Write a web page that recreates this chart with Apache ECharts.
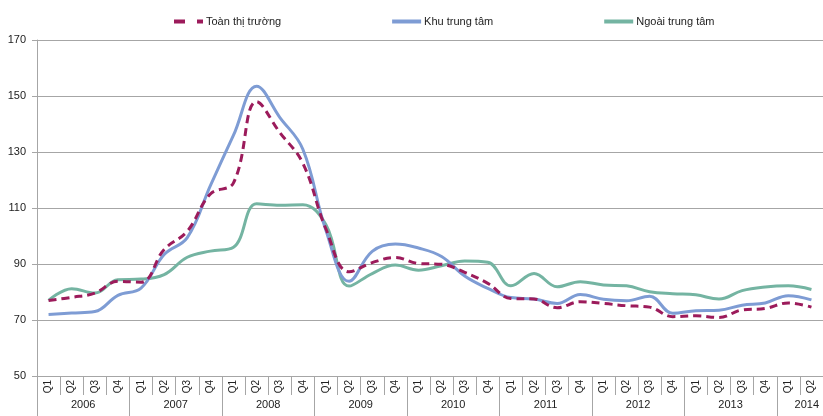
<!DOCTYPE html>
<html>
<head>
<meta charset="utf-8">
<script src="https://cdn.jsdelivr.net/npm/echarts@6/dist/echarts.min.js"></script>
<style>html,body{margin:0;padding:0;background:#fff}#c{width:823px;height:416px}</style>
</head>
<body>
<div id="c"></div>
<script>
var quarters = ['Q1','Q2','Q3','Q4','Q1','Q2','Q3','Q4','Q1','Q2','Q3','Q4','Q1','Q2','Q3','Q4','Q1','Q2','Q3','Q4','Q1','Q2','Q3','Q4','Q1','Q2','Q3','Q4','Q1','Q2','Q3','Q4','Q1','Q2'];
var years = ['2006','2007','2008','2009','2010','2011','2012','2013','2014'];
var yearStarts = [0,4,8,12,16,20,24,28,32];
var yearCenters = [2,6,10,14,18,22,26,30,33.3];
var yTicks = [50,70,90,110,130,150,170];

var toanThiTruong = [77,78.1,79.6,83.8, 83.5,95.2,101.7,115, 119,148,137,126, 102.5,87.2,90.5,92.3, 90.2,89.9,87,83.1, 77.7,77.5,74.4,76.5, 75.9,75.1,74.6,71.2, 71.5,70.9,73.6,74.1, 76.1,74.6];
var khuTrungTam = [72,72.5,73,78.8, 81.4,93.4,99.4,118, 136,153.5,142.4,131, 102,83.8,94.5,97.1, 95.7,92.7,85.7,81.3, 78,77.5,75.9,79.1, 77.4,76.9,78.5,72.4, 73.3,73.5,75.3,76.1, 78.7,77.2];
var ngoaiTrungTam = [77,81.2,79.6,84.4, 84.6,86.2,92.4,94.6, 96,111.5,111,111.2, 104,82.1,86.6,89.6, 87.8,89.4,91.1,90.6, 82.2,86.6,81.9,83.7, 82.5,82.2,80.1,79.4, 79,77.5,80.5,81.8, 82.2,80.9];

var FONT = 'Liberation Sans, Arial, sans-serif';
var GRAY = '#a6a6a6';
var chart = echarts.init(document.getElementById('c'), null, {renderer:'canvas'});
chart.setOption({
  animation: false,
  legend: {
    top: 11, left: 169, itemWidth: 29, itemHeight: 4, itemGap: 111,
    textStyle: {fontFamily: FONT, fontSize: 11, color: '#222', padding: [0, 0, 0, -2]},
    data: [
      {name: 'Toàn thị trường', icon: 'path://M0,0h11v4h-11z M23,0h6v4h-6z'},
      {name: 'Khu trung tâm', icon: 'path://M0,0h29v4h-29z'},
      {name: 'Ngoài trung tâm', icon: 'path://M0,0h29v4h-29z'}
    ]
  },
  grid: {left: 37, right: -9, top: 40, bottom: 40, containLabel: false},
  xAxis: [{
    type: 'category', data: quarters, boundaryGap: true,
    axisLine: {show: true, lineStyle: {color: GRAY, width: 1}},
    axisTick: {show: true, interval: 0, length: 19, lineStyle: {color: GRAY}},
    axisLabel: {interval: 0, rotate: 90, margin: 4, fontFamily: FONT, fontSize: 10, color: '#222'},
    splitLine: {show: false}
  }, {
    type: 'value', min: 0, max: 34, position: 'bottom',
    axisLine: {show: false},
    axisTick: {show: true, customValues: yearStarts, length: 42, lineStyle: {color: GRAY}},
    axisLabel: {customValues: yearCenters, margin: 23, fontFamily: FONT, fontSize: 11, color: '#222',
      formatter: function (v) { var i = yearCenters.indexOf(v); return i >= 0 ? years[i] : ''; }},
    splitLine: {show: false}
  }],
  yAxis: {
    type: 'value', min: 50, max: 170, interval: 20,
    axisLine: {show: true, lineStyle: {color: GRAY}},
    axisTick: {show: true, length: 5, lineStyle: {color: GRAY}},
    axisLabel: {margin: 11, fontFamily: FONT, fontSize: 11, color: '#222'},
    splitLine: {show: true, lineStyle: {color: GRAY, width: 1}}
  },
  series: [{
    name: 'Toàn thị trường', type: 'line', data: toanThiTruong, smooth: 0.4, symbol: 'none', z: 3,
    lineStyle: {color: '#9c1b5b', width: 3, type: [8, 5]}, itemStyle: {color: '#9c1b5b'}
  }, {
    name: 'Khu trung tâm', type: 'line', data: khuTrungTam, smooth: 0.4, symbol: 'none', z: 2,
    lineStyle: {color: '#7e9cd4', width: 3}, itemStyle: {color: '#7e9cd4'}
  }, {
    name: 'Ngoài trung tâm', type: 'line', data: ngoaiTrungTam, smooth: 0.4, symbol: 'none', z: 1,
    lineStyle: {color: '#74b4a2', width: 3}, itemStyle: {color: '#74b4a2'}
  }]
});
</script>
</body>
</html>
